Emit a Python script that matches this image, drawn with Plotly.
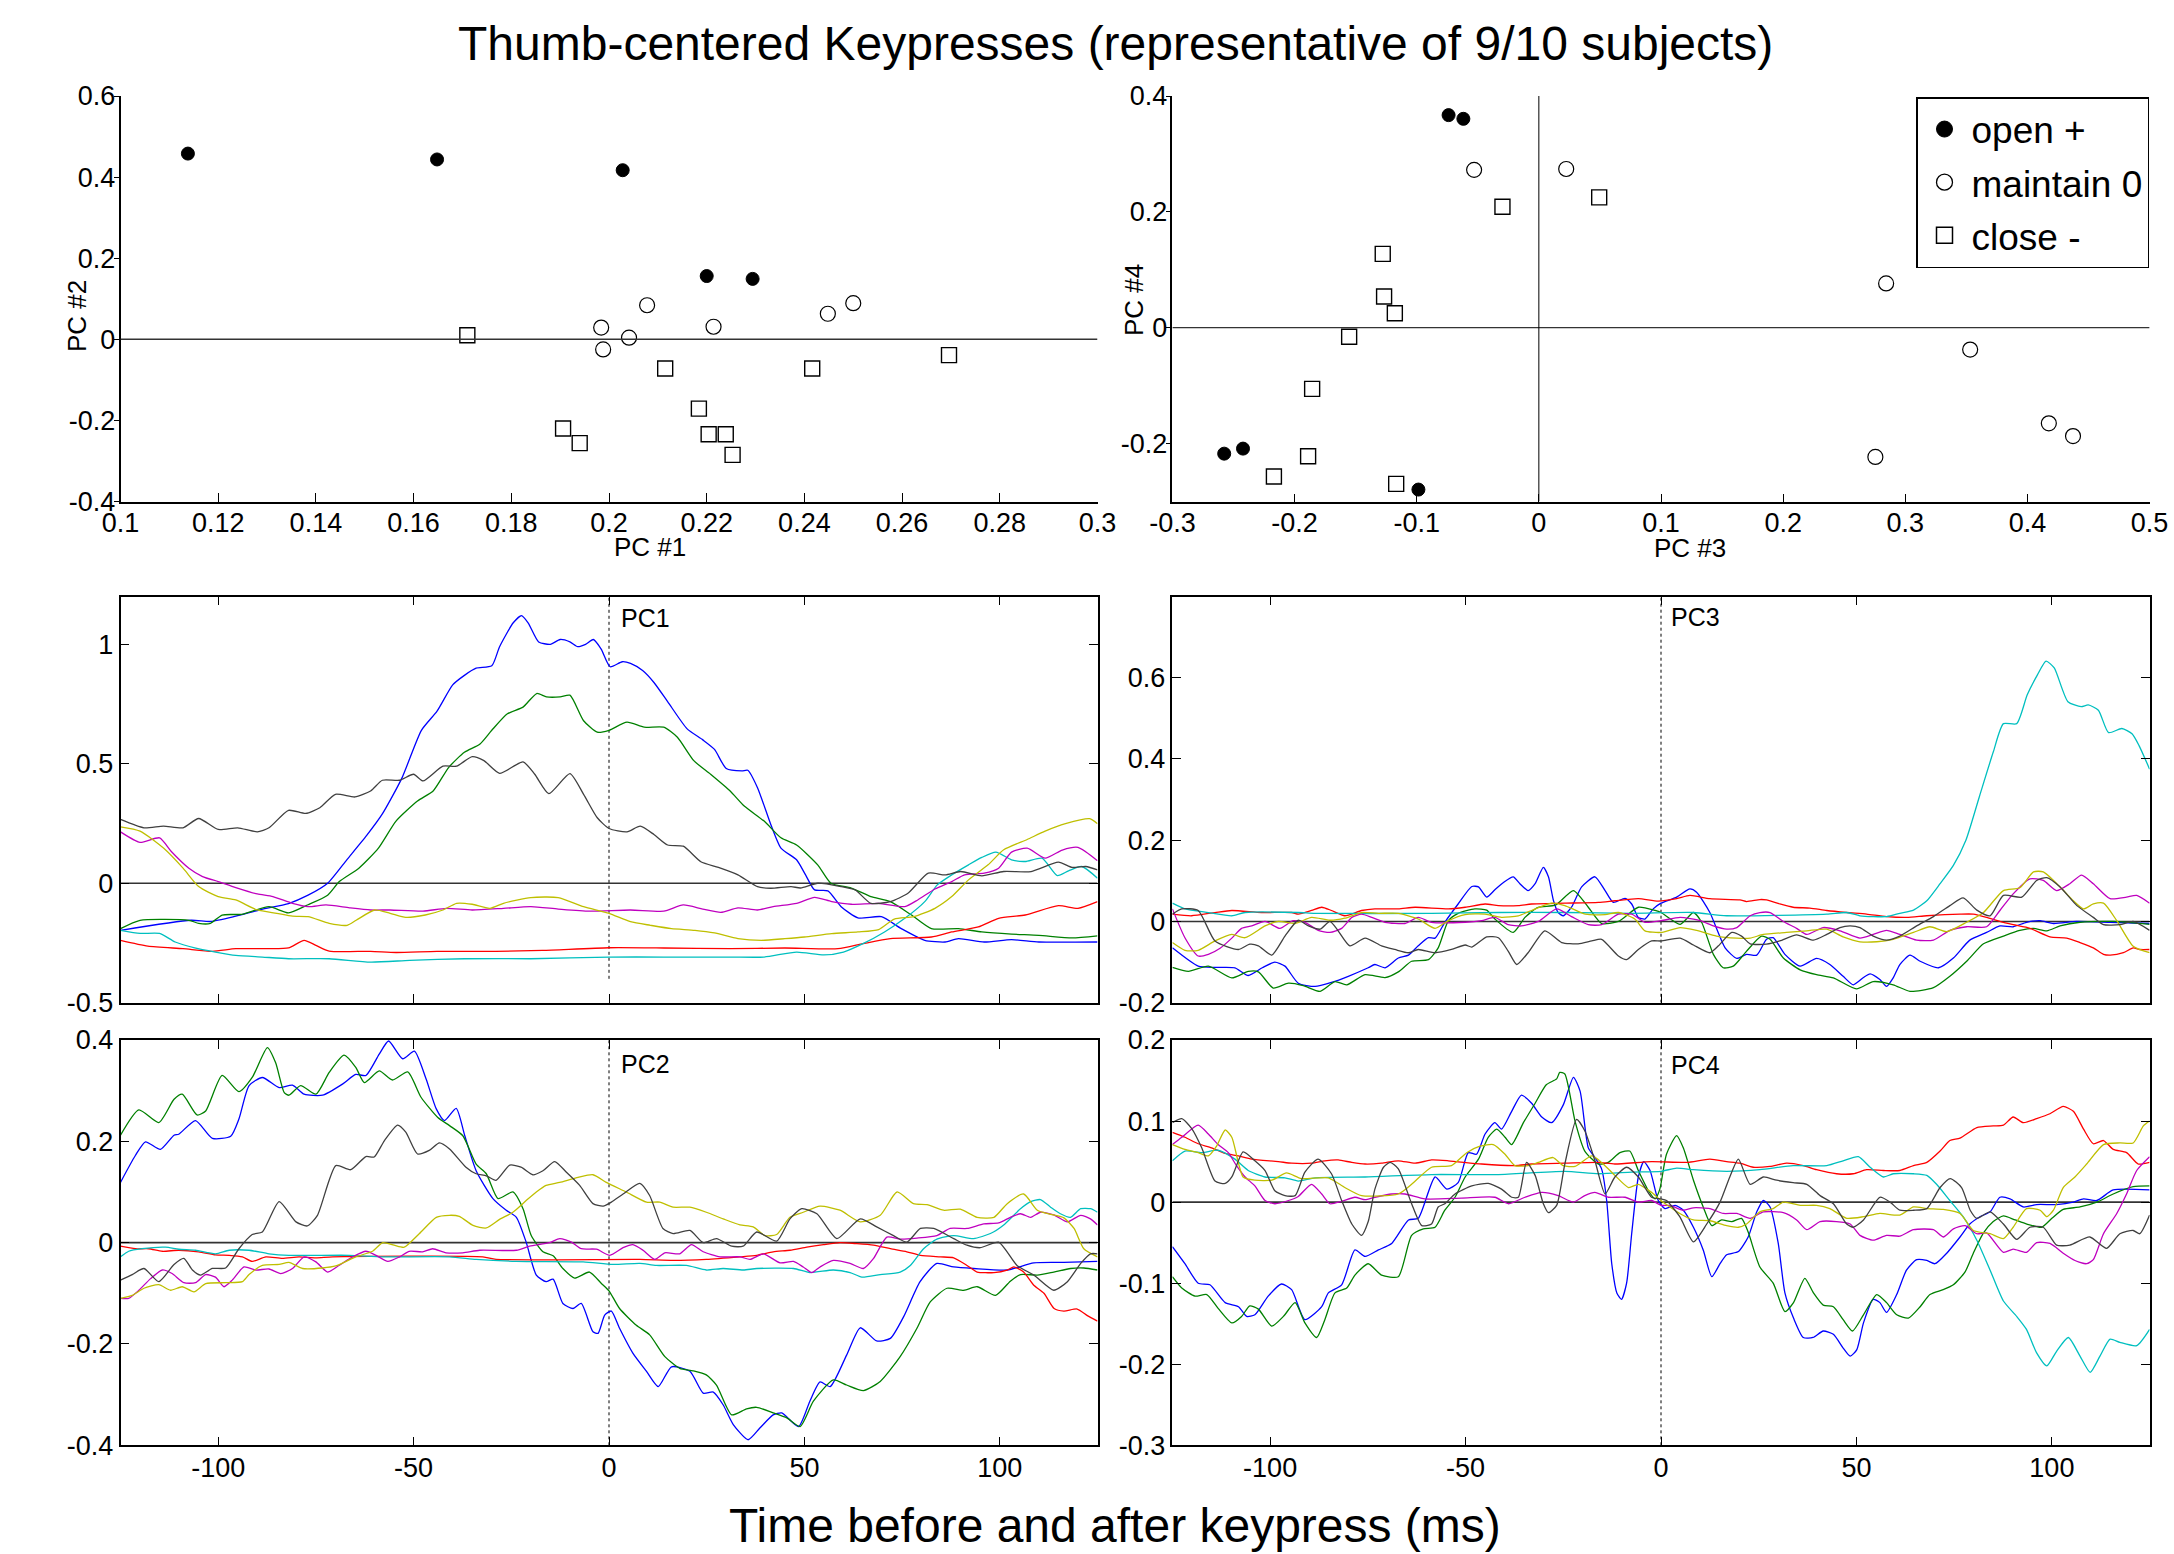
import plotly.graph_objects as go

# ---------------- scatter data ----------------
OPEN_PC1 = [0.1138, 0.1648, 0.2028, 0.2200, 0.2294]
OPEN_PC2 = [0.458, 0.4435, 0.417, 0.156, 0.149]
MAINTAIN_PC1 = [0.2078, 0.1984, 0.1988, 0.2041, 0.2214, 0.2448, 0.2500]
MAINTAIN_PC2 = [0.084, 0.029, -0.025, 0.004, 0.031, 0.063, 0.089]
CLOSE_PC1 = [0.1710, 0.2115, 0.1906, 0.1940, 0.2184, 0.2204, 0.2239, 0.2253, 0.2416, 0.2696]
CLOSE_PC2 = [0.010, -0.072, -0.220, -0.256, -0.171, -0.234, -0.234, -0.285, -0.072, -0.039]

OPEN_PC3 = [-0.0739, -0.0618, -0.2576, -0.2422, -0.0986]
OPEN_PC4 = [0.367, 0.3606, -0.2174, -0.2087, -0.2794]
MAINTAIN_PC3 = [-0.053, 0.0224, 0.2843, 0.3531, 0.4175, 0.4373, 0.2755]
MAINTAIN_PC4 = [0.2725, 0.274, 0.0765, -0.0377, -0.165, -0.187, -0.223]
CLOSE_PC3 = [-0.0298, 0.0494, -0.1278, -0.1267, -0.1179, -0.1553, -0.1856, -0.1889, -0.2169, -0.1168]
CLOSE_PC4 = [0.2087, 0.225, 0.1275, 0.054, 0.025, -0.0157, -0.1055, -0.222, -0.2568, -0.2696]

GROUP_NAMES = ["open +", "maintain 0", "close -"]

# ---------------- time courses: (time ms, value) ----------------
PC1_BLUE = [(-125,-0.197),(-107,-0.155),(-102,-0.16),(-96,-0.14),(-89,-0.11),(-82,-0.085),(-77,-0.05),(-72,0.0),(-67,0.10),(-62,0.20),(-58,0.29),(-53,0.44),(-48,0.64),(-44,0.72),(-40,0.83),(-37,0.87),(-34,0.90),(-30,0.91),(-28,0.99),(-24.5,1.09),(-22.4,1.12),(-20.7,1.09),(-18,1.01),(-15,1.0),(-12.5,1.02),(-10,1.01),(-8,0.99),(-6,1.0),(-4,1.02),(-2,0.98),(0.3,0.906),(3.4,0.927),(5.5,0.92),(8.6,0.89),(11.5,0.84),(15,0.76),(20,0.646),(24,0.60),(27,0.56),(30,0.48),(34,0.47),(35.5,0.473),(38,0.40),(41.4,0.246),(44,0.147),(48,0.098),(50.3,0.035),(52.6,-0.028),(56,-0.032),(59.4,-0.098),(63.7,-0.145),(69.7,-0.14),(74.8,-0.19),(80.8,-0.239),(86,-0.246),(89.4,-0.232),(96,-0.246),(103,-0.236),(110,-0.246),(125,-0.246)]
PC1_GREEN = [(-125,-0.19),(-120,-0.155),(-107.5,-0.155),(-105,-0.168),(-102,-0.168),(-99,-0.133),(-94,-0.13),(-87,-0.098),(-82,-0.124),(-77,-0.09),(-72,-0.05),(-69,0.007),(-64,0.063),(-59,0.147),(-54.5,0.26),(-49,0.344),(-45,0.386),(-41,0.485),(-37,0.548),(-33,0.583),(-30,0.64),(-26,0.709),(-22,0.737),(-18.5,0.794),(-16,0.78),(-12.5,0.78),(-10,0.787),(-6.5,0.68),(-3,0.632),(0,0.64),(4.6,0.674),(9,0.653),(14,0.653),(17.5,0.611),(21.7,0.513),(26,0.456),(31,0.386),(34.6,0.323),(39.7,0.26),(44,0.19),(48,0.16),(53.4,0.077),(56.8,0.0),(62,-0.02),(67,-0.056),(72,-0.077),(77.4,-0.133),(82.5,-0.19),(89.4,-0.19),(95.4,-0.204),(103,-0.213),(110,-0.218),(118.5,-0.229),(125,-0.22)]
PC1_BLACK = [(-125,0.267),(-119,0.232),(-114,0.239),(-109,0.232),(-105,0.271),(-100,0.225),(-95,0.232),(-90,0.215),(-87,0.232),(-82,0.305),(-77.6,0.292),(-74,0.316),(-70,0.372),(-65,0.361),(-61,0.386),(-58,0.431),(-53.6,0.431),(-50,0.456),(-47.6,0.428),(-42.5,0.49),(-39,0.49),(-35,0.53),(-32,0.513),(-28,0.46),(-22,0.508),(-19,0.456),(-15.4,0.375),(-10,0.459),(-6.5,0.372),(-3,0.274),(0,0.229),(4.6,0.215),(8,0.239),(11.5,0.204),(15,0.16),(19,0.155),(23.5,0.09),(28,0.066),(33,0.035),(38,-0.014),(41.4,-0.021),(46.6,-0.014),(49,-0.02),(53.4,0.0),(59.4,-0.014),(63,-0.028),(67,-0.084),(72,-0.077),(76.5,-0.042),(81.7,0.042),(86,0.035),(90,0.049),(95.4,0.031),(101,0.049),(108,0.049),(115,0.088),(118.5,0.066),(122,0.07),(125,0.056)]
PC1_YELLOW = [(-125,0.236),(-120,0.218),(-114,0.147),(-109,0.063),(-105,-0.014),(-100,-0.056),(-95.5,-0.07),(-90,-0.112),(-85,-0.126),(-81,-0.138),(-77,-0.14),(-71.6,-0.168),(-67,-0.176),(-64.7,-0.155),(-60,-0.112),(-56,-0.126),(-52,-0.143),(-47,-0.133),(-42.5,-0.112),(-39,-0.084),(-35,-0.088),(-30.5,-0.105),(-27,-0.084),(-20,-0.06),(-13,-0.06),(-6.5,-0.098),(0,-0.126),(5.5,-0.161),(10.6,-0.176),(16,-0.19),(22,-0.197),(27,-0.208),(33,-0.232),(39,-0.239),(45,-0.232),(50,-0.225),(57,-0.211),(63.7,-0.204),(69,-0.194),(73,-0.15),(78,-0.14),(83.4,-0.105),(87.7,-0.056),(92,0.014),(97,0.077),(101,0.14),(107,0.183),(111.6,0.218),(116.8,0.249),(123,0.27),(125,0.249)]
PC1_MAGENTA = [(-125,0.215),(-120,0.171),(-115,0.19),(-112,0.133),(-107.5,0.063),(-104,0.028),(-100,0.007),(-95.5,-0.018),(-90,-0.045),(-86,-0.056),(-81,-0.084),(-77,-0.098),(-72.4,-0.091),(-66.4,-0.103),(-61,-0.112),(-56,-0.112),(-47.6,-0.117),(-41.6,-0.105),(-35,-0.112),(-27,-0.105),(-20,-0.098),(-13,-0.108),(-5,-0.117),(5.5,-0.112),(14,-0.117),(19,-0.091),(24,-0.108),(28.6,-0.122),(33,-0.103),(38,-0.112),(42,-0.098),(48,-0.084),(52.6,-0.059),(57,-0.077),(62,-0.088),(69,-0.084),(75.7,-0.098),(79,-0.07),(83.4,-0.024),(87.7,0.007),(91,0.035),(96,0.042),(99.7,0.063),(103,0.13),(107,0.147),(111.6,0.105),(116,0.139),(120,0.15),(125,0.094)]
PC1_CYAN = [(-125,-0.197),(-120,-0.21),(-115,-0.21),(-111,-0.246),(-106,-0.271),(-100.7,-0.288),(-95.5,-0.302),(-88.7,-0.309),(-82,-0.316),(-71.6,-0.316),(-61,-0.33),(-51,-0.323),(-37,-0.316),(-20,-0.316),(0,-0.309),(14,-0.309),(31,-0.309),(39.7,-0.309),(48,-0.288),(55,-0.3),(60,-0.288),(65,-0.253),(70.5,-0.204),(75.7,-0.147),(80.8,-0.077),(84,-0.007),(87.7,0.035),(92,0.077),(95.4,0.108),(99,0.13),(103,0.098),(106.5,0.091),(110.8,0.105),(114.7,0.032),(117.6,0.052),(121,0.07),(125,0.021)]
PC1_RED = [(-125,-0.239),(-118,-0.263),(-109,-0.274),(-101.5,-0.285),(-95.5,-0.274),(-87,-0.274),(-82,-0.271),(-78,-0.239),(-75,-0.26),(-71.6,-0.284),(-61,-0.285),(-54.5,-0.29),(-44,-0.285),(-29,-0.285),(-17,-0.281),(0,-0.27),(14,-0.271),(31,-0.274),(45,-0.271),(58.6,-0.274),(65,-0.253),(72,-0.232),(82.5,-0.225),(87.7,-0.204),(94.5,-0.183),(99.7,-0.147),(106.5,-0.133),(115,-0.094),(120,-0.105),(125,-0.077)]

PC3_BLUE = [(-125,-0.065),(-118.4,-0.11),(-114,-0.113),(-109,-0.114),(-105.6,-0.133),(-102,-0.114),(-98.8,-0.10),(-96.2,-0.11),(-92.8,-0.152),(-88.5,-0.16),(-84.3,-0.15),(-80,-0.135),(-74.9,-0.114),(-73.2,-0.106),(-70.6,-0.114),(-67.2,-0.09),(-64.6,-0.083),(-62.1,-0.06),(-59.5,-0.04),(-57.8,-0.041),(-55.3,-0.002),(-51.9,0.043),(-48.4,0.086),(-46.7,0.085),(-44.6,0.06),(-42.5,0.078),(-40.3,0.096),(-37.8,0.11),(-36.1,0.093),(-34,0.076),(-32.2,0.093),(-30.1,0.133),(-28.8,0.11),(-27.5,0.051),(-26.3,0.022),(-25,0.014),(-22.9,0.035),(-20.3,0.085),(-16.9,0.11),(-14.3,0.076),(-12.2,0.047),(-9.2,0.057),(-7.5,0.043),(-5.8,0.01),(-4.1,0.006),(-2,0.031),(0,0.045),(4,0.06),(7.4,0.08),(9.1,0.072),(12.5,0.022),(16.4,-0.065),(19.4,-0.091),(21.9,-0.081),(24.5,-0.083),(27,-0.044),(28.7,-0.04),(31.7,-0.081),(35.6,-0.11),(39.8,-0.091),(43.2,-0.106),(46.6,-0.135),(49.2,-0.156),(51.8,-0.138),(53.5,-0.129),(56,-0.143),(57.7,-0.16),(59.4,-0.139),(61.1,-0.106),(63.7,-0.083),(66.3,-0.098),(71,-0.114),(74.8,-0.09),(79,-0.046),(83.3,-0.027),(86.7,-0.011),(90.1,-0.013),(93.5,-0.002),(97,0.002),(100.4,-0.005),(106.3,0.0),(114.9,-0.002),(125,-0.005)]
PC3_GREEN = [(-125,-0.113),(-120.9,-0.123),(-115.8,-0.11),(-109.8,-0.139),(-105.6,-0.123),(-103,-0.124),(-99.2,-0.164),(-95.3,-0.152),(-91.5,-0.158),(-87.2,-0.172),(-83.4,-0.148),(-80.4,-0.156),(-75.7,-0.131),(-70.6,-0.138),(-67.2,-0.124),(-63.8,-0.098),(-59.5,-0.094),(-57,-0.065),(-54.4,0.002),(-51.9,0.02),(-47.6,0.031),(-44.6,0.028),(-42.5,0.006),(-37.8,-0.027),(-34.8,0.01),(-31.4,0.035),(-27,0.04),(-22.4,0.076),(-18.6,0.035),(-15.2,-0.005),(-10.9,0.0),(-5.8,0.035),(-1.5,0.027),(0,0.022),(4.9,-0.007),(8.3,0.022),(10.4,-0.002),(13.4,-0.081),(15.9,-0.114),(18.5,-0.11),(21.9,-0.073),(25.7,-0.036),(27.9,-0.044),(31.3,-0.09),(35.6,-0.119),(39.8,-0.131),(44.1,-0.139),(50,-0.166),(54.3,-0.148),(59.4,-0.156),(63.7,-0.172),(69.7,-0.163),(73.9,-0.135),(78.2,-0.098),(82.5,-0.055),(87.6,-0.036),(91.8,-0.022),(95.3,-0.017),(98.7,-0.023),(102.1,-0.011),(107.2,-0.002),(115.7,0.0),(125,-0.007)]
PC3_BLACK = [(-125,0.018),(-122.6,0.031),(-118.4,0.027),(-114.1,-0.048),(-108.1,-0.069),(-105.2,-0.056),(-103,-0.06),(-99.6,-0.083),(-96.2,-0.036),(-92.8,0.003),(-90.2,-0.011),(-87.2,-0.019),(-84.7,0.0),(-82.6,-0.023),(-79.6,-0.06),(-75.7,-0.041),(-71.5,-0.06),(-68.1,-0.069),(-64.6,-0.077),(-62.1,-0.069),(-57.8,-0.077),(-53.6,-0.069),(-50.1,-0.058),(-48.4,-0.063),(-44.6,-0.038),(-41.6,-0.04),(-39.1,-0.073),(-36.9,-0.106),(-34,-0.077),(-29.7,-0.023),(-25.4,-0.052),(-21.2,-0.055),(-17.7,-0.048),(-15.2,-0.044),(-10.9,-0.085),(-8.8,-0.094),(-5.8,-0.069),(-2.4,-0.048),(0,-0.048),(4.9,-0.041),(8.3,-0.058),(12.5,-0.077),(14.7,-0.06),(18.1,-0.027),(20.6,-0.036),(22.8,-0.055),(27,-0.056),(30.4,-0.048),(34.7,-0.033),(39,-0.046),(42.4,-0.032),(45.8,-0.015),(48.4,-0.011),(50.9,-0.015),(54.3,-0.036),(57.7,-0.046),(61.1,-0.036),(65.4,-0.011),(69.7,0.012),(73.9,0.039),(77.3,0.058),(80.8,0.028),(84.2,0.014),(87.6,0.064),(92.3,0.06),(96.1,0.101),(98.7,0.108),(102.1,0.085),(106.4,0.039),(110.6,0.01),(113.2,-0.008),(117.4,-0.008),(120.8,0.0),(125,-0.022)]
PC3_YELLOW = [(-125,-0.052),(-121.8,-0.071),(-118.4,-0.071),(-114.1,-0.048),(-109.8,-0.032),(-106.4,-0.04),(-101.3,-0.011),(-97.9,0.0),(-93.6,-0.005),(-89.4,0.01),(-84.7,0.003),(-80.9,0.008),(-76.6,0.022),(-72.3,0.02),(-67.2,0.02),(-62.1,0.006),(-57.8,-0.017),(-54.4,0.002),(-50.1,0.017),(-45,0.018),(-40.8,0.01),(-36.5,0.014),(-33.1,0.027),(-28,0.045),(-24.6,0.039),(-19.4,0.018),(-14.3,0.017),(-10.9,0.022),(-6.7,0.006),(-4.1,-0.023),(0,-0.027),(4.9,-0.015),(9.1,-0.022),(14.2,-0.036),(19.4,-0.041),(22.8,-0.041),(26.2,-0.032),(32.1,-0.027),(37.3,-0.023),(42.4,-0.019),(46.6,-0.038),(50.9,-0.05),(55.2,-0.05),(59.4,-0.044),(64.6,-0.027),(68.8,-0.013),(73.1,-0.025),(78.2,-0.002),(82.5,0.022),(87.6,0.076),(91.8,0.083),(95.3,0.122),(97.8,0.122),(102.1,0.085),(105.5,0.051),(108.1,0.031),(110.6,0.043),(113.2,0.045),(116.6,0.002),(120.8,-0.061),(125,-0.077)]
PC3_MAGENTA = [(-125,0.031),(-121.8,-0.04),(-118.4,-0.085),(-115.8,-0.081),(-112.8,-0.066),(-109.8,-0.041),(-107.3,-0.017),(-104.7,-0.011),(-101.3,0.0),(-97.5,-0.017),(-94.1,0.002),(-91.1,-0.002),(-87.7,-0.022),(-84.7,-0.027),(-81.7,-0.017),(-79.1,0.01),(-76.6,0.018),(-74,0.01),(-70.6,-0.002),(-65.5,-0.005),(-62.1,0.01),(-58.7,-0.002),(-50.1,-0.002),(-45.9,0.002),(-42.5,0.01),(-39.1,-0.008),(-35.7,-0.011),(-31.4,0.0),(-26.7,0.031),(-22.9,0.012),(-18.6,-0.008),(-15.2,-0.008),(-10.9,0.018),(-7.5,0.018),(-4.1,-0.002),(0,0.002),(4.9,0.01),(10,0.002),(13.4,-0.011),(16.8,-0.019),(19.4,-0.015),(22.8,0.014),(25.3,0.022),(27.9,0.022),(31.3,0.0),(34.7,-0.017),(37.3,-0.032),(41.5,-0.015),(45.8,-0.023),(50.9,-0.041),(54.3,-0.032),(57.7,-0.022),(61.1,-0.032),(65.4,-0.046),(69.7,-0.046),(73.9,-0.022),(78.2,-0.013),(83.3,-0.013),(86.7,0.027),(90.1,0.068),(94.4,0.105),(97.8,0.101),(101.2,0.076),(104.6,0.093),(107.6,0.114),(110.6,0.093),(114.9,0.056),(119.1,0.06),(121.7,0.064),(125,0.045)]
PC3_CYAN = [(-125,0.045),(-121.8,0.031),(-115.8,0.022),(-109.8,0.014),(-106.4,0.022),(-92.8,0.022),(-88.5,0.02),(-58.7,0.02),(-41.6,0.022),(-24.6,0.022),(-7.5,0.02),(8.3,0.022),(16.8,0.014),(42.4,0.018),(47.5,0.022),(50.9,0.014),(57.7,0.012),(61.1,0.02),(64.6,0.028),(68,0.051),(71.4,0.093),(74.8,0.138),(78,0.2),(81.5,0.309),(85,0.417),(87.6,0.487),(91,0.487),(93.7,0.558),(96.3,0.607),(98.5,0.641),(100.6,0.624),(104.1,0.541),(107.5,0.529),(109.3,0.533),(111.9,0.52),(114.5,0.465),(117.9,0.475),(120.5,0.462),(122.3,0.433),(125,0.375)]
PC3_RED = [(-125,0.018),(-120.1,0.014),(-114.1,0.022),(-109.8,0.027),(-102.2,0.022),(-94.5,0.022),(-92.8,0.018),(-89.4,0.027),(-86.8,0.035),(-84.3,0.027),(-80.9,0.014),(-76.6,0.027),(-73.2,0.031),(-67.2,0.031),(-62.9,0.035),(-54.4,0.031),(-50.1,0.035),(-45,0.043),(-41.6,0.039),(-36.5,0.039),(-33.1,0.043),(-24.6,0.045),(-16,0.047),(-11.8,0.051),(-5.8,0.056),(-0.7,0.05),(4,0.056),(7.4,0.064),(12.5,0.056),(20.2,0.053),(21.9,0.049),(25.3,0.054),(27,0.053),(30.4,0.043),(33.8,0.035),(38.1,0.033),(42.4,0.027),(47.5,0.022),(52.6,0.018),(57.7,0.012),(62.9,0.01),(68,0.014),(76.5,0.018),(79.9,0.018),(83.3,0.01),(86.7,0.0),(90.1,-0.008),(94.4,-0.017),(99.5,-0.038),(103.8,-0.041),(107.2,-0.052),(110.6,-0.065),(113.2,-0.081),(114.9,-0.083),(118.3,-0.077),(120.8,-0.065),(122.5,-0.069),(125,-0.069)]

PC2_BLUE = [(-125,0.119),(-121.2,0.172),(-118.6,0.199),(-114.8,0.184),(-111.3,0.212),(-110.1,0.214),(-105.8,0.241),(-101.5,0.206),(-96.8,0.21),(-94.7,0.244),(-92.1,0.31),(-88.7,0.326),(-84.4,0.306),(-81,0.311),(-78,0.293),(-73.3,0.291),(-68.2,0.313),(-64.8,0.332),(-62.2,0.33),(-58.8,0.372),(-56.4,0.398),(-52.8,0.363),(-49.8,0.378),(-46.8,0.323),(-44.2,0.264),(-42.1,0.241),(-39.1,0.265),(-36.9,0.211),(-34,0.142),(-29.7,0.087),(-26.3,0.064),(-23.7,0.05),(-21.2,0.001),(-18.6,-0.064),(-16.1,-0.077),(-14.3,-0.072),(-11.8,-0.12),(-9.2,-0.13),(-7.1,-0.12),(-4.1,-0.176),(-2.8,-0.179),(-1.1,-0.143),(0.6,-0.135),(2.7,-0.169),(6.1,-0.218),(9.6,-0.254),(12.6,-0.284),(16,-0.245),(20.7,-0.254),(24.1,-0.297),(26.7,-0.295),(29.2,-0.32),(31.8,-0.359),(35.6,-0.389),(38.6,-0.366),(42,-0.34),(44.2,-0.336),(48.5,-0.363),(51.4,-0.313),(54,-0.275),(56.6,-0.284),(60.8,-0.222),(64.3,-0.168),(68.5,-0.194),(72,-0.189),(75.4,-0.146),(79.6,-0.077),(83.9,-0.041),(88.2,-0.048),(93.3,-0.051),(101.9,-0.054),(108.7,-0.04),(116.4,-0.039),(125,-0.037)]
PC2_GREEN = [(-125,0.212),(-120.3,0.262),(-115.2,0.237),(-111.3,0.283),(-109.2,0.293),(-105.4,0.252),(-103.2,0.26),(-99,0.33),(-94.7,0.298),(-91.3,0.326),(-87.4,0.385),(-85.3,0.355),(-83.1,0.296),(-81.9,0.291),(-78.9,0.31),(-75,0.293),(-71.6,0.336),(-67.8,0.37),(-64.8,0.346),(-62.6,0.316),(-58.8,0.339),(-55.4,0.321),(-51.5,0.337),(-48.1,0.287),(-43.8,0.247),(-40.8,0.231),(-37.4,0.211),(-34,0.155),(-31.4,0.136),(-28.4,0.087),(-24.6,0.1),(-22,0.067),(-19.9,0.014),(-16.9,-0.018),(-14.3,-0.026),(-11.8,-0.051),(-8.8,-0.07),(-5,-0.058),(-2,-0.08),(0,-0.095),(2.7,-0.13),(7,-0.163),(10.4,-0.182),(14.3,-0.225),(18.1,-0.248),(21.5,-0.253),(24.9,-0.261),(27.5,-0.281),(31.4,-0.34),(35.2,-0.328),(37.8,-0.325),(42,-0.336),(45.5,-0.346),(48.9,-0.363),(52.3,-0.313),(57.4,-0.271),(60.8,-0.281),(65.1,-0.292),(69.4,-0.274),(74.5,-0.225),(78.8,-0.169),(82.2,-0.117),(86.5,-0.09),(90.8,-0.094),(94.2,-0.087),(98.9,-0.104),(102.7,-0.076),(105.3,-0.063),(109.6,-0.064),(113.8,-0.058),(118.1,-0.051),(121.5,-0.05),(125,-0.054)]
PC2_BLACK = [(-125,-0.074),(-122,-0.063),(-119,-0.051),(-115.2,-0.077),(-111.3,-0.043),(-108.8,-0.031),(-106.6,-0.054),(-104.5,-0.064),(-101.5,-0.051),(-98.1,-0.05),(-94.7,-0.012),(-91.3,0.016),(-88.7,0.021),(-84.4,0.081),(-80.1,0.041),(-77.2,0.033),(-74.6,0.054),(-69.9,0.152),(-66.1,0.144),(-62.2,0.17),(-60.1,0.169),(-57.5,0.201),(-54.1,0.232),(-52,0.218),(-49,0.175),(-46,0.182),(-43.4,0.197),(-40.8,0.185),(-36.6,0.149),(-34,0.136),(-31.4,0.132),(-28.9,0.123),(-25.4,0.153),(-22.5,0.149),(-19.5,0.134),(-16.9,0.142),(-13.9,0.16),(-10.9,0.139),(-7.5,0.113),(-4.1,0.077),(-1.5,0.072),(0.6,0.08),(3.6,0.096),(7.9,0.117),(10.4,0.093),(13.8,0.028),(16.4,0.018),(20.7,0.024),(24.1,0.0),(27.5,0.008),(31.4,-0.007),(34.3,-0.007),(37.8,0.021),(42.9,0.003),(46.3,0.047),(49.3,0.067),(53.2,0.057),(58.3,0.008),(64.3,0.047),(68.5,0.031),(72.8,0.014),(76.2,0.001),(79.7,0.028),(83.1,0.028),(88.2,0.008),(91.6,-0.005),(95,-0.01),(99.7,0.001),(104.4,-0.045),(108.7,-0.064),(113.8,-0.094),(117.3,-0.077),(120.7,-0.041),(123.2,-0.022),(125,-0.022)]
PC2_YELLOW = [(-125,-0.11),(-122,-0.104),(-119,-0.09),(-115.2,-0.083),(-112.2,-0.094),(-109.2,-0.087),(-106.2,-0.097),(-103.2,-0.081),(-98.1,-0.079),(-93.8,-0.077),(-92.1,-0.063),(-88.7,-0.045),(-84.4,-0.043),(-81.9,-0.039),(-78.4,-0.051),(-73.3,-0.05),(-69.9,-0.046),(-64.8,-0.028),(-60.5,-0.017),(-57.9,0.0),(-55,-0.005),(-52.4,-0.009),(-48.5,0.018),(-44.2,0.05),(-40.8,0.054),(-38.3,0.052),(-34.8,0.034),(-31.4,0.029),(-28,0.046),(-24.6,0.06),(-21.2,0.083),(-18.6,0.1),(-16.1,0.113),(-12.6,0.119),(-7.9,0.129),(-4.1,0.134),(-0.7,0.119),(4.4,0.1),(9.6,0.08),(13,0.08),(16.4,0.07),(20.7,0.07),(24.9,0.06),(29.2,0.047),(33.5,0.035),(36.9,0.031),(39.9,0.014),(42.9,0.016),(46.3,0.05),(49.7,0.06),(54,0.072),(59.1,0.064),(64.3,0.041),(69.4,0.054),(73.7,0.1),(77.9,0.077),(81.4,0.075),(85.6,0.064),(89.9,0.066),(94.2,0.05),(98.5,0.05),(101.9,0.077),(106.1,0.096),(109.6,0.064),(113,0.056),(116.4,0.049),(119,0.028),(121.5,-0.012),(125,-0.028)]
PC2_MAGENTA = [(-125,-0.11),(-122.9,-0.11),(-120.3,-0.094),(-117.3,-0.071),(-114.3,-0.054),(-111.8,-0.061),(-108.8,-0.079),(-105.8,-0.079),(-103.2,-0.063),(-100.7,-0.068),(-98.5,-0.087),(-96.4,-0.074),(-93.4,-0.048),(-90.4,-0.054),(-87,-0.052),(-84,-0.061),(-81,-0.051),(-78,-0.028),(-75,-0.038),(-72,-0.058),(-69.1,-0.045),(-65.6,-0.028),(-62.2,-0.017),(-59.6,-0.025),(-56.6,-0.037),(-53.6,-0.028),(-51.1,-0.017),(-47.7,-0.018),(-45.1,-0.012),(-41.7,-0.02),(-37.4,-0.02),(-33.1,-0.015),(-23.7,-0.015),(-20.3,-0.007),(-15.2,0.0),(-12.6,0.008),(-9.6,0.001),(-7.1,-0.012),(-3.2,-0.013),(0.2,-0.025),(3.6,-0.01),(6.1,-0.004),(8.7,-0.015),(11.7,-0.033),(14.3,-0.02),(18.1,-0.022),(21.1,-0.004),(24.1,-0.018),(28.4,-0.028),(33.5,-0.028),(36.1,-0.033),(39.5,-0.022),(43.8,-0.04),(47.2,-0.037),(49.7,-0.048),(51.9,-0.059),(54,-0.048),(57.4,-0.035),(61.7,-0.041),(65.1,-0.051),(67.7,-0.031),(71.1,0.011),(74.5,0.007),(78.8,0.009),(83.9,0.014),(87.3,0.028),(91.6,0.028),(95.9,0.037),(99.7,0.039),(102.7,0.05),(105.3,0.057),(107.9,0.05),(110.4,0.06),(113.8,0.055),(117.3,0.041),(120.7,0.054),(123.2,0.047),(125,0.035)]
PC2_CYAN = [(-125,-0.028),(-122.9,-0.017),(-119.5,-0.012),(-113.5,-0.009),(-110.1,-0.013),(-105.8,-0.015),(-100.7,-0.022),(-97.2,-0.015),(-92.1,-0.015),(-87,-0.022),(-81.9,-0.025),(-66.5,-0.025),(-57.9,-0.028),(-40.8,-0.028),(-34,-0.033),(-23.7,-0.037),(-6.6,-0.038),(1,-0.043),(7.9,-0.041),(12.1,-0.045),(19.8,-0.045),(24.9,-0.054),(29.2,-0.051),(34.4,-0.054),(37.8,-0.051),(47.2,-0.051),(51.4,-0.059),(57.4,-0.054),(61.7,-0.059),(64.7,-0.068),(69.4,-0.063),(74.5,-0.058),(77.1,-0.045),(80.5,-0.012),(83.9,0.007),(88.2,0.014),(93.3,0.008),(97.6,0.018),(101,0.035),(105.3,0.067),(107.9,0.081),(110.4,0.085),(113,0.07),(115.5,0.057),(118.1,0.05),(120.7,0.067),(123.2,0.067),(125,0.06)]
PC2_RED = [(-125,-0.007),(-121.2,-0.012),(-117.8,-0.012),(-114.3,-0.017),(-110.1,-0.015),(-105,-0.018),(-100.7,-0.024),(-97.2,-0.025),(-93.8,-0.028),(-91.3,-0.037),(-87.8,-0.028),(-83.6,-0.031),(-79.3,-0.028),(-75,-0.03),(-70.7,-0.028),(-32.3,-0.028),(-28.9,-0.033),(7.9,-0.033),(16.4,-0.035),(24.9,-0.033),(33.5,-0.028),(37.8,-0.025),(42,-0.018),(46.3,-0.015),(50.6,-0.009),(54.9,-0.004),(59.1,0.0),(63.4,-0.002),(67.7,-0.005),(72,-0.012),(76.2,-0.018),(79.7,-0.025),(84.8,-0.028),(88.2,-0.03),(91.6,-0.045),(94.2,-0.058),(98.5,-0.059),(101.9,-0.054),(103.6,-0.048),(106.1,-0.058),(108.7,-0.084),(111.3,-0.1),(113.9,-0.13),(116.4,-0.135),(119.8,-0.131),(122.4,-0.144),(125,-0.155)]

PC4_BLUE = [(-125,-0.055),(-121.8,-0.076),(-118.4,-0.1),(-115.4,-0.102),(-111.5,-0.124),(-108.1,-0.129),(-106,-0.141),(-103.9,-0.139),(-100.5,-0.116),(-97.1,-0.101),(-94.5,-0.108),(-91.1,-0.145),(-86.8,-0.129),(-85.1,-0.112),(-81.7,-0.102),(-78.3,-0.059),(-75.7,-0.067),(-72.3,-0.059),(-68.9,-0.051),(-64.6,-0.022),(-62.1,-0.02),(-57.8,0.031),(-54.8,0.016),(-51.9,0.024),(-49.3,0.061),(-47.2,0.059),(-45,0.084),(-42.5,0.098),(-40.8,0.09),(-38.2,0.112),(-35.7,0.132),(-33.1,0.122),(-30.5,0.105),(-28,0.098),(-25,0.12),(-22.4,0.154),(-20.7,0.137),(-18.6,0.067),(-16.9,0.055),(-15.2,0.041),(-13.9,0.002),(-12.6,-0.076),(-11.3,-0.112),(-10.1,-0.12),(-8.8,-0.1),(-7.5,-0.039),(-5.8,0.031),(-4.4,0.05),(-2.8,0.039),(-0.7,0.002),(1,-0.008),(3.6,-0.004),(5.7,-0.01),(8.3,-0.031),(10.8,-0.059),(13,-0.092),(15.1,-0.076),(16.8,-0.065),(19.8,-0.061),(22.3,-0.043),(24.5,-0.012),(26.2,0.002),(27.9,-0.006),(30,-0.051),(31.7,-0.112),(33.9,-0.143),(36.4,-0.167),(38.9,-0.167),(41.5,-0.159),(44.1,-0.163),(46.6,-0.18),(48.4,-0.19),(50.1,-0.182),(51.8,-0.149),(54.3,-0.12),(56,-0.124),(57.7,-0.136),(60.3,-0.114),(62.8,-0.084),(65.4,-0.071),(68,-0.072),(70.1,-0.076),(73.1,-0.063),(76.5,-0.043),(79,-0.027),(81.6,-0.018),(84.2,-0.012),(86.7,0.006),(89.3,0.004),(92.7,-0.006),(96.1,-0.003),(101.2,-0.003),(105.5,0.0),(108.1,0.004),(111.5,0.002),(115.7,0.015),(125,0.015)]
PC4_GREEN = [(-125,-0.092),(-122.6,-0.106),(-119.2,-0.116),(-116.2,-0.114),(-113.3,-0.131),(-109.8,-0.149),(-107.3,-0.141),(-105.2,-0.128),(-103,-0.132),(-99.6,-0.153),(-96.6,-0.141),(-93.6,-0.124),(-91.1,-0.149),(-88.1,-0.167),(-86,-0.145),(-83.4,-0.112),(-80.4,-0.106),(-78.3,-0.09),(-74.9,-0.076),(-71.5,-0.09),(-67.2,-0.092),(-63.8,-0.041),(-60.8,-0.033),(-57.8,-0.031),(-55.3,-0.01),(-52.7,0.006),(-50.1,0.031),(-46.7,0.053),(-44.2,0.08),(-42,0.09),(-39.9,0.08),(-38.2,0.071),(-35.2,0.098),(-32.2,0.122),(-29.3,0.145),(-26.7,0.152),(-25.9,0.16),(-24.6,0.158),(-22,0.1),(-19.5,0.063),(-16,0.047),(-13.5,0.049),(-10.5,0.061),(-8,0.063),(-5.8,0.039),(-3.2,0.014),(-1.5,0.004),(-0.3,0.016),(1.4,0.059),(4,0.082),(5.7,0.067),(8.3,0.027),(10.8,-0.006),(13,-0.029),(15.5,-0.022),(18.1,-0.024),(20.6,-0.02),(22.3,-0.037),(25.3,-0.08),(28.7,-0.1),(31.7,-0.135),(33.9,-0.124),(36.8,-0.094),(39,-0.112),(41.5,-0.127),(44.1,-0.129),(46.6,-0.145),(49,-0.159),(51.8,-0.139),(55.2,-0.114),(57.7,-0.124),(60.3,-0.139),(63.3,-0.143),(66.3,-0.129),(68.8,-0.114),(72.2,-0.108),(74.8,-0.102),(77.8,-0.086),(79.9,-0.063),(82.5,-0.038),(85,-0.024),(87.6,-0.017),(90.6,-0.022),(93.6,-0.027),(97.4,-0.031),(100,-0.02),(102.9,-0.009),(107.2,-0.006),(111.5,0.0),(115.7,0.01),(120.8,0.019),(125,0.02)]
PC4_BLACK = [(-125,0.098),(-122.6,0.103),(-120.1,0.091),(-117.5,0.067),(-114.1,0.026),(-111.5,0.023),(-109.8,0.031),(-106.9,0.062),(-103.9,0.051),(-101.3,0.039),(-98.8,0.014),(-96.2,0.008),(-93.6,0.008),(-91.1,0.037),(-87.7,0.053),(-84.3,0.035),(-81.7,0.002),(-79.1,-0.027),(-76.6,-0.041),(-74.9,-0.024),(-73.2,0.016),(-71,0.043),(-69.3,0.049),(-67.2,0.041),(-63.8,-0.002),(-61.2,-0.029),(-58.7,-0.027),(-57,-0.006),(-55.3,-0.002),(-52.7,0.01),(-48.4,0.02),(-44.2,0.023),(-40.8,0.016),(-38.2,0.006),(-36.5,0.006),(-34.4,0.049),(-32.2,0.033),(-30.1,-0.002),(-28.8,-0.013),(-26.7,-0.004),(-24.6,0.047),(-21.6,0.102),(-19.5,0.088),(-16.9,0.051),(-14.3,0.01),(-11.8,0.031),(-8.8,0.043),(-5.8,0.031),(-2.4,0.006),(0,0.004),(1.4,0.002),(4.8,-0.018),(8.3,-0.049),(11.7,-0.027),(15.1,0.0),(17.6,0.031),(19.8,0.053),(22.8,0.022),(26.2,0.031),(29.6,0.027),(33.8,0.024),(37.3,0.022),(40.7,0.008),(44.1,-0.002),(47.5,-0.027),(49.2,-0.031),(51.8,-0.022),(56,0.006),(58.6,0.0),(61.1,-0.01),(64.6,-0.01),(68,-0.008),(71.4,0.018),(74,0.029),(76.9,0.018),(79.1,-0.01),(80.8,-0.02),(84.2,-0.012),(87.6,-0.027),(91,-0.046),(94.4,-0.031),(97.8,-0.031),(101.2,-0.053),(104.6,-0.053),(109.7,-0.043),(114,-0.057),(117.4,-0.039),(120.8,-0.035),(122.5,-0.039),(125,-0.016)]
PC4_YELLOW = [(-125,0.071),(-121.8,0.065),(-118.4,0.061),(-115.8,0.057),(-113.7,0.069),(-111.5,0.089),(-109.8,0.08),(-106.9,0.031),(-103.9,0.027),(-99.6,0.027),(-95.8,0.036),(-92,0.029),(-85.1,0.03),(-80.9,0.018),(-76.6,0.008),(-67.2,0.01),(-63.8,0.022),(-58.7,0.043),(-53.6,0.045),(-49.7,0.061),(-46.3,0.069),(-42.9,0.071),(-39.9,0.059),(-37.4,0.045),(-34,0.045),(-31.4,0.049),(-27.6,0.055),(-25,0.045),(-22,0.044),(-17.7,0.057),(-15.2,0.049),(-11.8,0.033),(-8.3,0.018),(-5.8,0.022),(-2.4,0.012),(0,0.002),(2.3,-0.006),(4.8,-0.014),(8.3,-0.022),(12.5,-0.023),(16.8,-0.029),(19.8,-0.031),(21.9,-0.027),(25.3,-0.012),(28.7,-0.008),(31.3,0.0),(35.6,-0.004),(39.8,-0.004),(43.2,-0.008),(47.5,-0.02),(51.8,-0.018),(56,-0.014),(61.1,-0.016),(64.6,-0.006),(68,-0.008),(72.2,-0.009),(76.5,-0.014),(79.9,-0.035),(84.2,-0.039),(87.6,-0.045),(90.1,-0.031),(93.5,-0.008),(97,-0.01),(98.7,-0.018),(100.4,-0.01),(102.9,0.018),(105.9,0.031),(108.9,0.047),(113.2,0.071),(117.4,0.073),(120.8,0.073),(123.4,0.094),(125,0.1)]
PC4_MAGENTA = [(-125,0.071),(-122.6,0.08),(-118.4,0.095),(-115.8,0.084),(-113.3,0.071),(-110.7,0.061),(-108.6,0.045),(-106.4,0.031),(-103.9,0.02),(-101.3,0.002),(-98.8,-0.002),(-95.3,0.002),(-92.8,0.007),(-89.4,0.022),(-86.8,0.01),(-84.7,-0.002),(-81.7,0.001),(-78.3,0.006),(-75.7,0.003),(-73.2,0.006),(-68.9,0.01),(-65.5,0.01),(-60.4,0.004),(-51,0.005),(-42.5,0.006),(-39,-0.002),(-34.8,0.006),(-30.5,0.012),(-26.3,0.008),(-22.4,0.0),(-19.5,0.008),(-16.9,0.012),(-13.5,0.006),(-9.2,0.006),(-5.8,0.0),(-2.4,0.002),(0,-0.004),(2.3,-0.004),(5.7,-0.01),(8.3,-0.007),(12.5,-0.008),(15.9,-0.014),(19.4,-0.014),(22.8,-0.02),(26.2,-0.012),(31.3,-0.013),(34.7,-0.022),(37.3,-0.034),(40.7,-0.024),(44.9,-0.024),(48.4,-0.027),(50.9,-0.041),(54.3,-0.047),(57.7,-0.041),(61.1,-0.042),(64.6,-0.034),(69.7,-0.034),(72.2,-0.043),(74.8,-0.033),(77.8,-0.029),(80.8,-0.039),(83.3,-0.038),(87.6,-0.062),(90.1,-0.058),(93.5,-0.062),(96.1,-0.05),(99.5,-0.051),(102.9,-0.063),(105.9,-0.072),(108.9,-0.076),(110.6,-0.071),(113.2,-0.039),(116.6,-0.014),(119.1,0.01),(121.7,0.039),(125,0.056)]
PC4_CYAN = [(-125,0.051),(-121.8,0.063),(-117.5,0.061),(-113.3,0.064),(-109,0.053),(-105.6,0.039),(-101.3,0.031),(-96.2,0.03),(-92.8,0.026),(-88.5,0.03),(-75.7,0.031),(-58.7,0.034),(-41.6,0.034),(-24.6,0.038),(-16,0.035),(-7.5,0.037),(0,0.038),(4,0.042),(8.3,0.04),(16.8,0.038),(25.3,0.04),(33.8,0.045),(42.4,0.045),(46.6,0.051),(50.5,0.056),(53.5,0.043),(56.9,0.031),(59.4,0.035),(64.6,0.035),(68,0.033),(70.5,0.022),(73.9,0.002),(77.3,-0.018),(80.8,-0.047),(84.2,-0.084),(87.6,-0.122),(91,-0.141),(93.5,-0.157),(96.1,-0.186),(98.7,-0.202),(101.2,-0.184),(104.2,-0.167),(107.2,-0.19),(109.8,-0.21),(112.3,-0.19),(114.9,-0.169),(117.4,-0.173),(121.7,-0.177),(125,-0.157)]
PC4_RED = [(-125,0.086),(-121.8,0.08),(-118.4,0.072),(-115,0.067),(-111.5,0.06),(-108.1,0.057),(-104.7,0.053),(-97.9,0.05),(-94.5,0.048),(-89.4,0.048),(-86,0.051),(-82.6,0.052),(-79.1,0.049),(-75.7,0.047),(-71.5,0.048),(-67.2,0.051),(-62.9,0.048),(-58.7,0.052),(-54.4,0.051),(-45.9,0.047),(-37.4,0.045),(-33.1,0.047),(-24.6,0.048),(-16,0.049),(-11.8,0.047),(-2.4,0.05),(6.6,0.049),(12.5,0.053),(16.8,0.05),(20.2,0.048),(23.6,0.043),(27.9,0.044),(32.1,0.048),(36.4,0.045),(39.8,0.04),(44.9,0.035),(49.2,0.035),(52.6,0.04),(56.9,0.039),(61.1,0.039),(64.6,0.045),(68,0.049),(71.4,0.063),(73.9,0.076),(76.5,0.079),(80.8,0.092),(85,0.094),(87.6,0.095),(90.1,0.105),(92.7,0.098),(96.1,0.103),(99.5,0.109),(102.9,0.118),(105.5,0.112),(108.1,0.09),(110.6,0.072),(113.2,0.076),(115.7,0.065),(119.1,0.061),(122.1,0.047),(125,0.049)]

# ---------------- ticks / labels ----------------
TIME_TICKS = [-100, -50, 0, 50, 100]
PC1_SC_TICKS = [0.1, 0.12, 0.14, 0.16, 0.18, 0.2, 0.22, 0.24, 0.26, 0.28, 0.3]
PC2_SC_TICKS = [-0.4, -0.2, 0, 0.2, 0.4, 0.6]
PC3_SC_TICKS = [-0.3, -0.2, -0.1, 0, 0.1, 0.2, 0.3, 0.4, 0.5]
PC4_SC_TICKS = [-0.2, 0, 0.2, 0.4]
PC1_TICKS = [-0.5, 0, 0.5, 1]
PC3_TICKS = [-0.2, 0, 0.2, 0.4, 0.6]
PC2_TICKS = [-0.4, -0.2, 0, 0.2, 0.4]
PC4_TICKS = [-0.3, -0.2, -0.1, 0, 0.1, 0.2]

TITLE = "Thumb-centered Keypresses (representative of 9/10 subjects)"
XTITLE = "Time before and after keypress (ms)"

COLORS = {"blue": "#0000ff", "green": "#008000", "red": "#ff0000", "cyan": "#00bfbf",
          "magenta": "#bf00bf", "yellow": "#bfbf00", "black": "#404040"}

FONT = "Liberation Sans, Arial, Helvetica, sans-serif"
W, H = 2174, 1554


def lab(v):
    return "%g" % v


fig = go.Figure()

# ---------- scatter panels ----------
MARKERS = [dict(symbol="circle", size=13, color="black", line=dict(color="black", width=1)),
           dict(symbol="circle-open", size=15, color="black", line=dict(width=1.2)),
           dict(symbol="square-open", size=15, color="black", line=dict(width=1.4))]
LEGEND_MARKERS = [dict(symbol="circle", size=18, color="black", line=dict(color="black", width=1)),
                  dict(symbol="circle-open", size=19, color="black", line=dict(width=1.3)),
                  dict(symbol="square-open", size=18, color="black", line=dict(width=1.5))]


def add_groups(xs_list, ys_list, xa, ya):
    for name, mk, xs, ys in zip(GROUP_NAMES, MARKERS, xs_list, ys_list):
        fig.add_trace(go.Scatter(x=xs, y=ys, mode="markers", name=name, marker=mk,
                                 xaxis=xa, yaxis=ya, showlegend=False, hoverinfo="skip"))


add_groups([OPEN_PC1, MAINTAIN_PC1, CLOSE_PC1], [OPEN_PC2, MAINTAIN_PC2, CLOSE_PC2], "x", "y")
add_groups([OPEN_PC3, MAINTAIN_PC3, CLOSE_PC3], [OPEN_PC4, MAINTAIN_PC4, CLOSE_PC4], "x2", "y2")
# legend entries (bigger symbols, as in the reference legend box)
for name, mk in zip(GROUP_NAMES, LEGEND_MARKERS):
    fig.add_trace(go.Scatter(x=[None], y=[None], mode="markers", name=name, marker=mk,
                             xaxis="x2", yaxis="y2", showlegend=True, legendgroup=name))

# ---------- time course panels ----------
panels = [
    ("x3", "y3", {"blue": PC1_BLUE, "green": PC1_GREEN, "red": PC1_RED, "cyan": PC1_CYAN,
                  "magenta": PC1_MAGENTA, "yellow": PC1_YELLOW, "black": PC1_BLACK}),
    ("x4", "y4", {"blue": PC3_BLUE, "green": PC3_GREEN, "red": PC3_RED, "cyan": PC3_CYAN,
                  "magenta": PC3_MAGENTA, "yellow": PC3_YELLOW, "black": PC3_BLACK}),
    ("x5", "y5", {"blue": PC2_BLUE, "green": PC2_GREEN, "red": PC2_RED, "cyan": PC2_CYAN,
                  "magenta": PC2_MAGENTA, "yellow": PC2_YELLOW, "black": PC2_BLACK}),
    ("x6", "y6", {"blue": PC4_BLUE, "green": PC4_GREEN, "red": PC4_RED, "cyan": PC4_CYAN,
                  "magenta": PC4_MAGENTA, "yellow": PC4_YELLOW, "black": PC4_BLACK}),
]
for xa, ya, series in panels:
    for cname, pts in series.items():
        fig.add_trace(go.Scatter(x=[p[0] for p in pts], y=[p[1] for p in pts], mode="lines",
                                 line=dict(color=COLORS[cname], width=1.3, shape="spline", smoothing=0.6),
                                 xaxis=xa, yaxis=ya, showlegend=False, hoverinfo="skip"))

# ---------- axes ----------
LEFT = [120.5 / W, 1097.5 / W]
RIGHT = [1172.4 / W, 2149.6 / W]
TOPROW = [1 - 501.5 / H, 1 - 96 / H]
MIDROW = [1 - 1002.7 / H, 1 - 596.5 / H]
BOTROW = [1 - 1445.3 / H, 1 - 1040 / H]

tickfont = dict(family=FONT, size=27, color="black")


def sc_axis(domain, rng, ticks, anchor, tickdir, tlen, standoff):
    return dict(domain=domain, range=rng, anchor=anchor, tickvals=ticks, ticktext=[lab(t) for t in ticks],
                ticks=tickdir, ticklen=tlen, tickwidth=1.2, tickcolor="black",
                showline=True, linecolor="black", linewidth=1.5, mirror=False, automargin=False,
                showgrid=False, zeroline=False, tickfont=tickfont, ticklabelstandoff=standoff)


def ts_axis(domain, rng, ticks, anchor, show_labels=True, standoff=0):
    return dict(domain=domain, range=rng, anchor=anchor, tickvals=ticks, ticktext=[lab(t) for t in ticks],
                ticks="inside", ticklen=9, tickwidth=1.2, tickcolor="black", automargin=False,
                showline=True, linecolor="black", linewidth=1.5, mirror="ticks",
                showgrid=False, zeroline=False, tickfont=tickfont, showticklabels=show_labels,
                ticklabelstandoff=standoff)


fig.update_layout(
    xaxis=sc_axis(LEFT, [0.1, 0.3], PC1_SC_TICKS, "y", "inside", 9, -4),
    yaxis=sc_axis(TOPROW, [-0.4, 0.6], PC2_SC_TICKS, "x", "outside", 5, -7),
    xaxis2=sc_axis(RIGHT, [-0.3, 0.5], PC3_SC_TICKS, "y2", "inside", 8, -4),
    yaxis2=sc_axis(TOPROW, [-0.3, 0.4], PC4_SC_TICKS, "x2", "outside", 5, -7),
    xaxis3=ts_axis(LEFT, [-125, 125], TIME_TICKS, "y3", False),
    yaxis3=ts_axis(MIDROW, [-0.5, 1.2], PC1_TICKS, "x3"),
    xaxis4=ts_axis(RIGHT, [-125, 125], TIME_TICKS, "y4", False),
    yaxis4=ts_axis(MIDROW, [-0.2, 0.8], PC3_TICKS, "x4"),
    xaxis5=ts_axis(LEFT, [-125, 125], TIME_TICKS, "y5", True, -2),
    yaxis5=ts_axis(BOTROW, [-0.4, 0.4], PC2_TICKS, "x5"),
    xaxis6=ts_axis(RIGHT, [-125, 125], TIME_TICKS, "y6", True, -2),
    yaxis6=ts_axis(BOTROW, [-0.3, 0.2], PC4_TICKS, "x6"),
)

# ---------- reference lines ----------
shapes = [
    dict(type="line", xref="x", yref="y", x0=0.1, x1=0.3, y0=0, y1=0, line=dict(color="#333333", width=1.5)),
    dict(type="line", xref="x2", yref="y2", x0=-0.3, x1=0.5, y0=0, y1=0, line=dict(color="black", width=1)),
    dict(type="line", xref="x2", yref="y2", x0=0, x1=0, y0=-0.3, y1=0.4, line=dict(color="black", width=1)),
]
for xa, ya, y0, y1 in [("x3", "y3", -0.4, 1.2), ("x4", "y4", -0.2, 0.8), ("x5", "y5", -0.4, 0.4), ("x6", "y6", -0.3, 0.2)]:
    shapes.append(dict(type="line", xref=xa, yref=ya, x0=-125, x1=125, y0=0, y1=0,
                       line=dict(color="#333333", width=1.6), layer="below"))
    shapes.append(dict(type="line", xref=xa, yref=ya, x0=0, x1=0, y0=y0, y1=y1,
                       line=dict(color="black", width=1, dash="dot"), layer="below"))
fig.update_layout(shapes=shapes)

# ---------- annotations ----------
ann = [
    dict(text=TITLE, x=1116 / W, y=1 - 44 / H, xref="paper", yref="paper", showarrow=False,
         xanchor="center", yanchor="middle", font=dict(family=FONT, size=48, color="black")),
    dict(text=XTITLE, x=1115 / W, y=1 - 1525 / H, xref="paper", yref="paper", showarrow=False,
         xanchor="center", yanchor="middle", font=dict(family=FONT, size=48, color="black")),
    dict(text="PC #1", x=650 / W, y=1 - 547 / H, xref="paper", yref="paper", showarrow=False,
         xanchor="center", yanchor="middle", font=dict(family=FONT, size=26, color="black")),
    dict(text="PC #3", x=1690 / W, y=1 - 548 / H, xref="paper", yref="paper", showarrow=False,
         xanchor="center", yanchor="middle", font=dict(family=FONT, size=26, color="black")),
    dict(text="PC #2", x=77 / W, y=1 - 316 / H, xref="paper", yref="paper", showarrow=False, textangle=-90,
         xanchor="center", yanchor="middle", font=dict(family=FONT, size=26, color="black")),
    dict(text="PC #4", x=1134 / W, y=1 - 300 / H, xref="paper", yref="paper", showarrow=False, textangle=-90,
         xanchor="center", yanchor="middle", font=dict(family=FONT, size=26, color="black")),
]
for xa, ya, txt, t, v in [("x3", "y3", "PC1", 2.5, 1.11), ("x4", "y4", "PC3", 2.0, 0.75),
                          ("x5", "y5", "PC2", 2.5, 0.352), ("x6", "y6", "PC4", 2.0, 0.169)]:
    ann.append(dict(text=txt, x=t, y=v, xref=xa, yref=ya, showarrow=False, xanchor="left", yanchor="middle",
                    font=dict(family=FONT, size=25, color="black")))
fig.update_layout(annotations=ann)

fig.update_layout(
    template="none",
    width=W, height=H, autosize=False,
    margin=dict(l=0, r=0, t=0, b=0, pad=0),
    paper_bgcolor="white", plot_bgcolor="white",
    font=dict(family=FONT, color="black"),
    showlegend=True,
    legend=dict(x=1916 / W, y=1 - 97 / H, xanchor="left", yanchor="top",
                bgcolor="white", bordercolor="black", borderwidth=1.5,
                font=dict(family=FONT, size=37, color="black"),
                itemsizing="trace", tracegroupgap=2, itemwidth=44),
)

fig.write_html("out.html")
